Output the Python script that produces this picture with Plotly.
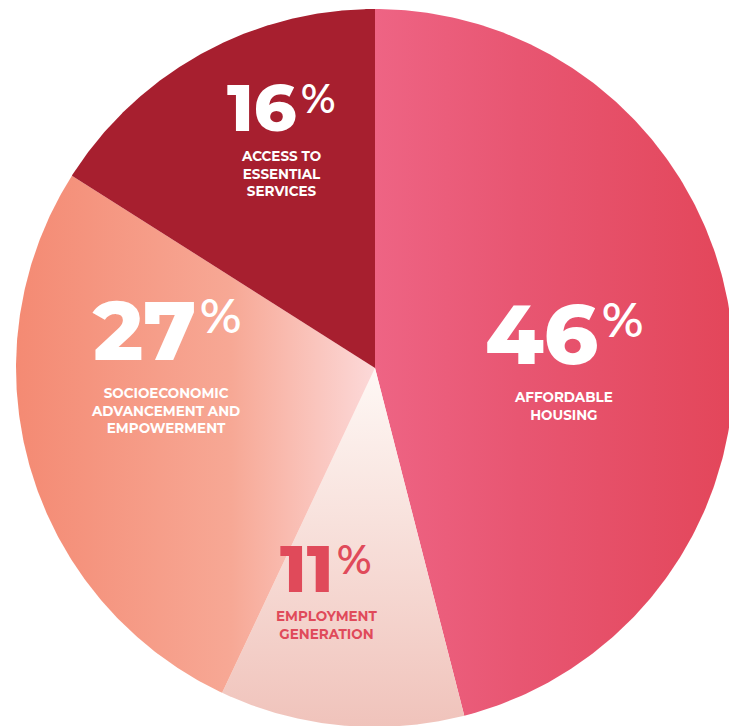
import numpy as np
import plotly.graph_objects as go

# Share of the programme by impact area (percent), clockwise from 12 o'clock
areas = ["AFFORDABLE<br>HOUSING",
         "EMPLOYMENT<br>GENERATION",
         "SOCIOECONOMIC<br>ADVANCEMENT AND<br>EMPOWERMENT",
         "ACCESS TO<br>ESSENTIAL<br>SERVICES"]
shares = [46, 11, 27, 16]

W, H = 729, 726
CX, CY, R = 375, 368, 359          # pie centre and radius in pixels


def px(x, y):
    """pixel position -> paper coordinates"""
    return x / W, 1 - y / H


# slice styling, in the same order as the data
styles = [
    dict(fillgradient=dict(type="horizontal", start=0, stop=1,
                           colorscale=[[0, "#EE6484"], [0.4, "#E85672"], [1, "#E3465A"]])),
    dict(fillgradient=dict(type="vertical", start=0, stop=-1,
                           colorscale=[[0, "#FEF8F5"], [1, "#F0C3BB"]])),
    dict(fillgradient=dict(type="horizontal", start=-1, stop=0,
                           colorscale=[[0, "#F48A73"], [0.6, "#F7A895"], [1, "#FCD9D9"]])),
    dict(fillcolor="#A71F2F"),
]

fig = go.Figure()

total = sum(shares)
angle = 90.0
for share, st in zip(shares, styles):
    sweep = 360.0 * share / total
    theta = np.radians(np.linspace(angle, angle - sweep, 240))
    xs = np.concatenate([[0], np.cos(theta), [0]])
    ys = np.concatenate([[0], np.sin(theta), [0]])
    fig.add_trace(go.Scatter(x=xs, y=ys, mode="lines", fill="toself",
                             line=dict(width=0), hoverinfo="skip",
                             showlegend=False, **st))
    angle -= sweep

# label layout in pixels: split x between number and "%", number centre y,
# "%" centre y, first caption line y, caption centre x
label_layout = [
    dict(split=599, ny=334, py=320, cy=398, cx=563, ns=84, ps=48),
    dict(split=334, ny=568, py=559, cy=617, cx=327, ns=66, ps=40),
    dict(split=197, ny=330, py=316, cy=395, cx=165, ns=84, ps=48),
    dict(split=298, ny=108, py=99, cy=158, cx=281, ns=66, ps=40),
]
txt_color = ["white", "#E04A5A", "white", "white"]
FONT = "Montserrat, Inter, 'Open Sans', sans-serif"
LINE_H = 15.3

for area, share, lay, col in zip(areas, shares, label_layout, txt_color):
    x0, y0 = px(lay["split"], lay["ny"])
    fig.add_annotation(x=x0, y=y0, xref="paper", yref="paper",
                       text=str(share), showarrow=False, borderpad=0,
                       xanchor="right", yanchor="middle",
                       font=dict(family=FONT, size=lay["ns"], color=col, weight=800))
    x0, y0 = px(lay["split"] + 2, lay["py"])
    fig.add_annotation(x=x0, y=y0, xref="paper", yref="paper",
                       text="%", showarrow=False, borderpad=0,
                       xanchor="left", yanchor="middle",
                       font=dict(family=FONT, size=lay["ps"], color=col, weight=600))
    n_lines = area.count("<br>") + 1
    x1, y1 = px(lay["cx"], lay["cy"] + (n_lines - 1) * LINE_H / 2)
    fig.add_annotation(x=x1, y=y1, xref="paper", yref="paper",
                       text=area, showarrow=False, borderpad=0,
                       xanchor="center", yanchor="middle", align="center",
                       font=dict(family=FONT, size=13.5, color=col, weight=700))

fig.update_xaxes(range=[-CX / R, (W - CX) / R], visible=False, fixedrange=True)
fig.update_yaxes(range=[-(H - CY) / R, CY / R], visible=False, fixedrange=True)
fig.update_layout(width=W, height=H, margin=dict(l=0, r=0, t=0, b=0),
                  paper_bgcolor="white", plot_bgcolor="white")

fig.write_html("out.html")
